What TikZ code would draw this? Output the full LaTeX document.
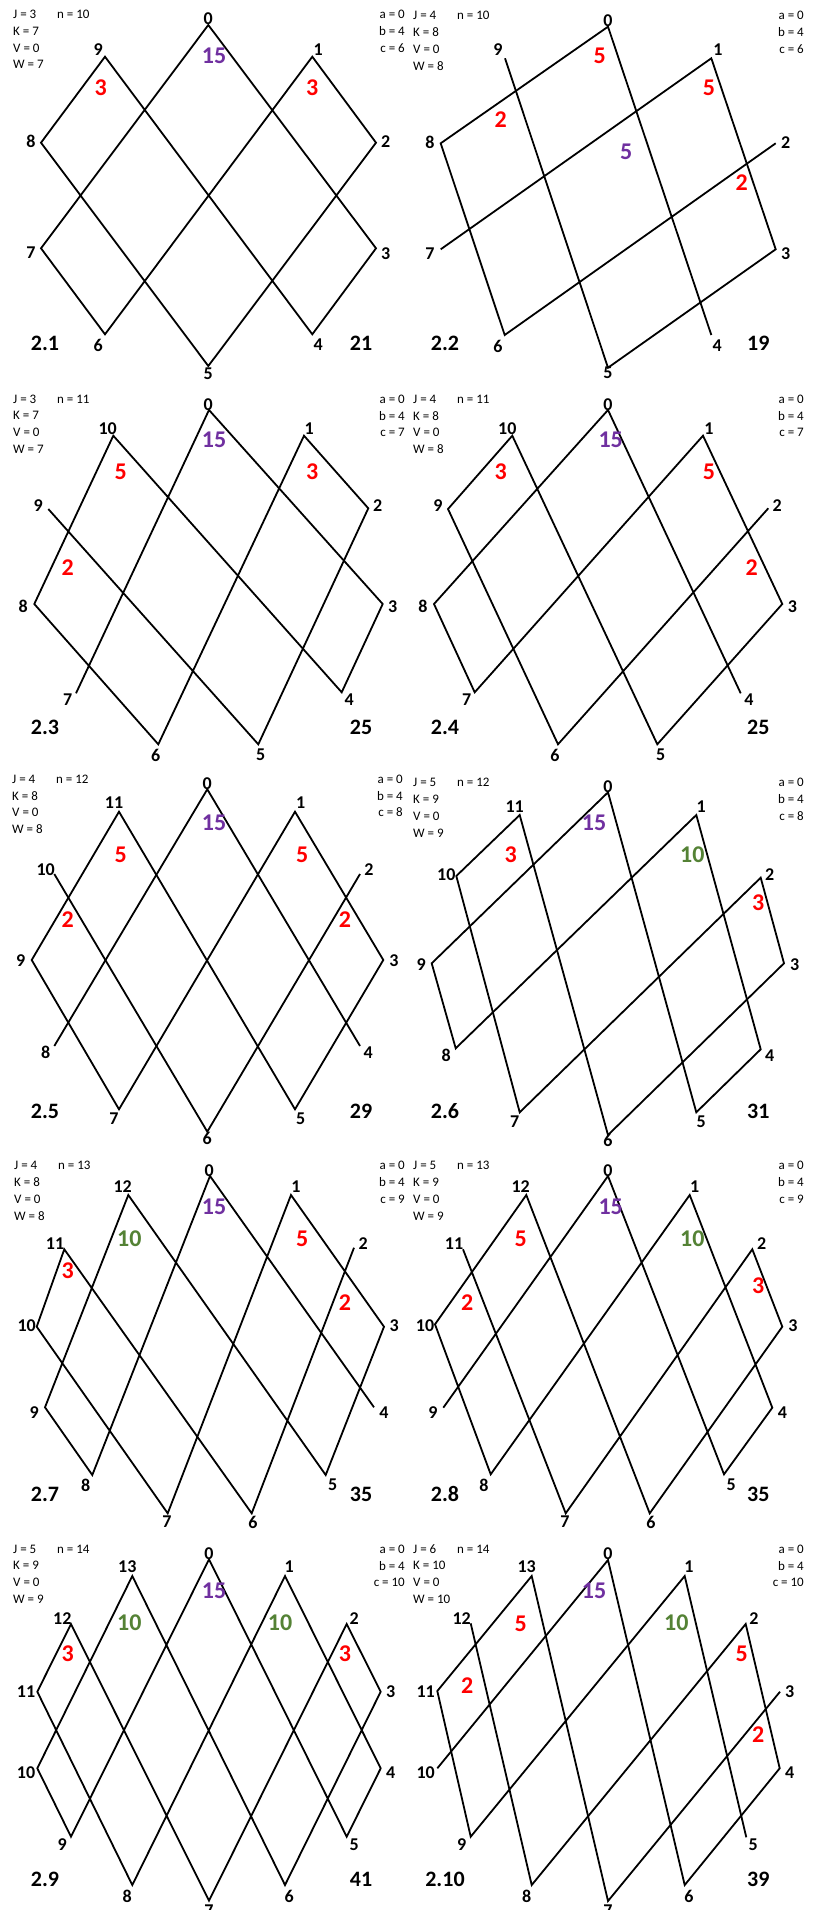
\documentclass[tikz,border=0pt]{standalone}
\usepackage{fontspec}
\setmainfont{Carlito}
\definecolor{pur}{RGB}{112,48,160}
\definecolor{grn}{RGB}{84,130,53}
\newcommand{\infoblk}[9]{%
 \node[info] (#1J) at (#2,#3) {J = #4};
 \node[info] (#1n) at (#2+44,#3) {n = #7};
 \node[info] (#1K) at (#2,#3+16.7) {K = #5};
 \node[info] (#1V) at (#2,#3+33.4) {V = 0};
 \node[info] (#1W) at (#2,#3+50.1) {W = #6};
 \node[infor] (#1a) at (#9,#3) {a = 0};
 \node[infor] (#1b) at (#9,#3+16.7) {b = 4};
 \node[infor] (#1c) at (#9,#3+33.4) {c = #8};
}
\begin{document}
\begin{tikzpicture}[x=1pt,y=-1pt,
 vl/.style={font=\bfseries\fontsize{18}{18}\selectfont,inner sep=0pt},
 rn/.style={font=\bfseries\fontsize{24}{24}\selectfont,text=red,inner sep=0pt},
 pn/.style={rn,text=pur},
 gn/.style={rn,text=grn},
 pid/.style={font=\bfseries\fontsize{22}{22}\selectfont,inner sep=0pt},
 info/.style={font=\fontsize{13}{13}\selectfont,inner sep=0pt,anchor=west},
 infor/.style={info,anchor=east},
 edge/.style={line width=1.8pt,line join=miter}]
\useasboundingbox[fill=white] (0,0) rectangle (818,1910);

% ---------- 2.1 ----------
\coordinate (a0) at (208.3,25); \coordinate (a1) at (312.3,56.7);
\coordinate (a2) at (376,142.7); \coordinate (a3) at (376,248.3);
\coordinate (a4) at (312.3,334.3); \coordinate (a5) at (208.3,366);
\coordinate (a6) at (105,334.3); \coordinate (a7) at (41,248.3);
\coordinate (a8) at (41,142.7); \coordinate (a9) at (105,56.7);
\draw[edge] (a0)--(a7)--(a6)--(a1)--(a2)--(a5)--(a8)--(a9)--(a4)--(a3)--cycle;
\node[vl] (aL0) at (208.3,18.3) {0}; \node[vl] (aL1) at (318.3,49.3) {1};
\node[vl] (aL2) at (385.7,141.7) {2}; \node[vl] (aL3) at (385.7,253.3) {3};
\node[vl] (aL4) at (318.3,345) {4}; \node[vl] (aL5) at (208.3,374) {5};
\node[vl] (aL6) at (98.3,345) {6}; \node[vl] (aL7) at (31,252.3) {7};
\node[vl] (aL8) at (31,141.7) {8}; \node[vl] (aL9) at (98.3,49.3) {9};
\node[rn] (aR1) at (100.7,87.7) {3}; \node[rn] (aR2) at (312.3,87.7) {3};
\node[pn] (aP) at (214,56) {15};
\node[pid] (aID) at (45,343.3) {2.1}; \node[pid] (aN) at (361,343.3) {21};
\infoblk{a}{13}{14.7}{3}{7}{7}{10}{6}{405}

% ---------- 2.2 ----------
\coordinate (b0) at (608,26.7); \coordinate (b1) at (711.3,58.3);
\coordinate (b2) at (775.7,143.3); \coordinate (b3) at (775.7,249.3);
\coordinate (b4) at (711.3,335); \coordinate (b5) at (608,367.7);
\coordinate (b6) at (504.7,335); \coordinate (b7) at (440.7,249.3);
\coordinate (b8) at (440.7,143.3); \coordinate (b9) at (505,58.3);
\draw[edge] (b4)--(b0)--(b8)--(b6)--(b2);
\draw[edge] (b9)--(b5)--(b3)--(b1)--(b7);
\node[vl] (bL0) at (608,20.7) {0}; \node[vl] (bL1) at (718,50) {1};
\node[vl] (bL2) at (785.7,142.7) {2}; \node[vl] (bL3) at (785.7,254) {3};
\node[vl] (bL4) at (717.3,346) {4}; \node[vl] (bL5) at (608,373) {5};
\node[vl] (bL6) at (498,346) {6}; \node[vl] (bL7) at (430,253.3) {7};
\node[vl] (bL8) at (430,142.7) {8}; \node[vl] (bL9) at (498,50) {9};
\node[rn] (bR1) at (599.7,56) {5}; \node[rn] (bR2) at (709,88.3) {5};
\node[rn] (bR3) at (500.7,119.3) {2}; \node[rn] (bR4) at (741.7,182.7) {2};
\node[pn] (bP) at (626.3,151.7) {5};
\node[pid] (bID) at (445,343.3) {2.2}; \node[pid] (bN) at (758.3,343.3) {19};
\infoblk{b}{413}{15.7}{4}{8}{8}{10}{6}{804}

% ---------- 2.3 ----------
\coordinate (c0) at (209,410); \coordinate (c1) at (304,435.7);
\coordinate (c2) at (368.3,508.3); \coordinate (c3) at (382.7,604);
\coordinate (c4) at (341.7,692.3); \coordinate (c5) at (258.3,744.3);
\coordinate (c6) at (158.3,744.3); \coordinate (c7) at (76,693.3);
\coordinate (c8) at (34.3,604); \coordinate (c9) at (48.3,509);
\coordinate (c10) at (113.3,435.7);
\draw[edge] (c7)--(c0)--(c3)--(c4)--(c10)--(c8)--(c6)--(c1)--(c2)--(c5)--(c9);
\node[vl] (cL0) at (208.3,404.3) {0}; \node[vl] (cL1) at (309.3,428.3) {1};
\node[vl] (cL2) at (377.7,506) {2}; \node[vl] (cL3) at (392.7,606.7) {3};
\node[vl] (cL4) at (349.3,700) {4}; \node[vl] (cL5) at (260.7,755) {5};
\node[vl] (cL6) at (155.7,755) {6}; \node[vl] (cL7) at (67.7,700) {7};
\node[vl] (cL8) at (23.3,606.7) {8}; \node[vl] (cL9) at (38.3,506) {9};
\node[vl] (cL10) at (107.7,428.3) {10};
\node[rn] (cR1) at (120.7,471.7) {5}; \node[rn] (cR2) at (312.3,471.7) {3};
\node[rn] (cR3) at (67.7,567.7) {2};
\node[pn] (cP) at (214,440) {15};
\node[pid] (cID) at (45,727.7) {2.3}; \node[pid] (cN) at (361,727.7) {25};
\infoblk{c}{13}{399}{3}{7}{7}{11}{7}{405}

% ---------- 2.4 ----------
\coordinate (d0) at (608,410); \coordinate (d1) at (703,435.7);
\coordinate (d2) at (768.3,508.3); \coordinate (d3) at (782.3,604);
\coordinate (d4) at (740.7,693.3); \coordinate (d5) at (657.3,744.3);
\coordinate (d6) at (558,744.3); \coordinate (d7) at (474.7,692.3);
\coordinate (d8) at (434,604); \coordinate (d9) at (448,509);
\coordinate (d10) at (512.3,435.7);
\draw[edge] (d4)--(d0)--(d8)--(d7)--(d1)--(d3)--(d5)--(d10)--(d9)--(d6)--(d2);
\node[vl] (dL0) at (608,404.3) {0}; \node[vl] (dL1) at (709,428.3) {1};
\node[vl] (dL2) at (777.3,506) {2}; \node[vl] (dL3) at (792.3,606.7) {3};
\node[vl] (dL4) at (749,700) {4}; \node[vl] (dL5) at (660.7,755) {5};
\node[vl] (dL6) at (555,755) {6}; \node[vl] (dL7) at (466.7,700) {7};
\node[vl] (dL8) at (423,606.7) {8}; \node[vl] (dL9) at (438,506) {9};
\node[vl] (dL10) at (507.3,428.3) {10};
\node[rn] (dR1) at (500.7,471.7) {3}; \node[rn] (dR2) at (709,471.7) {5};
\node[rn] (dR3) at (751.7,567.7) {2};
\node[pn] (dP) at (610.7,440) {15};
\node[pid] (dID) at (445,727.7) {2.4}; \node[pid] (dN) at (758.3,727.7) {25};
\infoblk{d}{413}{399}{4}{8}{8}{11}{7}{804}

% ---------- 2.5 ----------
\coordinate (e0) at (207.3,789.3); \coordinate (e1) at (295,811.7);
\coordinate (e2) at (360,874); \coordinate (e3) at (383.3,960);
\coordinate (e4) at (360,1046); \coordinate (e5) at (295,1109.3);
\coordinate (e6) at (207.3,1131.7); \coordinate (e7) at (119,1109.3);
\coordinate (e8) at (54.3,1046); \coordinate (e9) at (31.7,960);
\coordinate (e10) at (54.3,874); \coordinate (e11) at (119,811.7);
\draw[edge] (e8)--(e0)--(e4);
\draw[edge] (e10)--(e6)--(e2);
\draw[edge] (e11)--(e9)--(e7)--(e1)--(e3)--(e5)--cycle;
\node[vl] (eL0) at (207.3,784) {0}; \node[vl] (eL1) at (300.7,802.7) {1};
\node[vl] (eL2) at (369,870) {2}; \node[vl] (eL3) at (394,960.7) {3};
\node[vl] (eL4) at (368.3,1052.7) {4}; \node[vl] (eL5) at (300.7,1118.3) {5};
\node[vl] (eL6) at (207.3,1138.3) {6}; \node[vl] (eL7) at (114,1118.3) {7};
\node[vl] (eL8) at (45.7,1052.7) {8}; \node[vl] (eL9) at (20.7,960.7) {9};
\node[vl] (eL10) at (45.7,870) {10}; \node[vl] (eL11) at (114,802.7) {11};
\node[rn] (eR1) at (120.7,855) {5}; \node[rn] (eR2) at (302.3,855) {5};
\node[rn] (eR3) at (67.7,919.3) {2}; \node[rn] (eR4) at (345,919.3) {2};
\node[pn] (eP) at (214,822.7) {15};
\node[pid] (eID) at (45,1111) {2.5}; \node[pid] (eN) at (361,1111) {29};
\infoblk{e}{12}{779}{4}{8}{8}{12}{8}{403}

% ---------- 2.6 ----------
\coordinate (f0) at (608,792.3); \coordinate (f1) at (696.3,815);
\coordinate (f2) at (760.7,877.7); \coordinate (f3) at (784,963.3);
\coordinate (f4) at (760.7,1049.3); \coordinate (f5) at (696.3,1112.3);
\coordinate (f6) at (608,1135); \coordinate (f7) at (519.7,1112.3);
\coordinate (f8) at (455.7,1048.3); \coordinate (f9) at (431.7,963.3);
\coordinate (f10) at (456.3,876); \coordinate (f11) at (519.7,815);
\draw[edge] (f0)--(f9)--(f8)--(f1)--(f4)--(f5)--cycle;
\draw[edge] (f11)--(f10)--(f7)--(f2)--(f3)--(f6)--cycle;
\node[vl] (fL0) at (608,786.7) {0}; \node[vl] (fL1) at (701.3,806.7) {1};
\node[vl] (fL2) at (769.7,874.3) {2}; \node[vl] (fL3) at (794.7,965) {3};
\node[vl] (fL4) at (769.7,1055.7) {4}; \node[vl] (fL5) at (701.3,1121.7) {5};
\node[vl] (fL6) at (608,1140) {6}; \node[vl] (fL7) at (514.7,1121.7) {7};
\node[vl] (fL8) at (446.3,1055.7) {8}; \node[vl] (fL9) at (421.3,965) {9};
\node[vl] (fL10) at (446.3,874.3) {10}; \node[vl] (fL11) at (514.7,806.7) {11};
\node[rn] (fR1) at (510.7,855) {3}; \node[gn] (fG1) at (692.3,855) {10};
\node[rn] (fR2) at (758.3,902.7) {3};
\node[pn] (fP) at (594,822.7) {15};
\node[pid] (fID) at (445,1111) {2.6}; \node[pid] (fN) at (758.3,1111) {31};
\infoblk{f}{413}{782.7}{5}{9}{9}{12}{8}{804}

% ---------- 2.7 ----------
\coordinate (g0) at (210,1176); \coordinate (g1) at (291,1195);
\coordinate (g2) at (354,1247.7); \coordinate (g3) at (384,1326.7);
\coordinate (g4) at (374,1407.3); \coordinate (g5) at (325.7,1475);
\coordinate (g6) at (251.7,1513.3); \coordinate (g7) at (167.7,1513.3);
\coordinate (g8) at (92.3,1475); \coordinate (g9) at (45,1407.3);
\coordinate (g10) at (36.7,1326.7); \coordinate (g11) at (64.3,1249.3);
\coordinate (g12) at (128.3,1195);
\draw[edge] (g4)--(g0)--(g8)--(g9)--(g12)--(g5)--(g3)--(g1)--(g7)--(g10)--(g11)--(g6)--(g2);
\node[vl] (gL0) at (209.3,1170.7) {0}; \node[vl] (gL1) at (296,1186.7) {1};
\node[vl] (gL2) at (363.3,1244) {2}; \node[vl] (gL3) at (394.3,1326) {3};
\node[vl] (gL4) at (384,1412.7) {4}; \node[vl] (gL5) at (332.7,1485) {5};
\node[vl] (gL6) at (253,1522) {6}; \node[vl] (gL7) at (167,1522) {7};
\node[vl] (gL8) at (85.7,1485) {8}; \node[vl] (gL9) at (34.3,1412.7) {9};
\node[vl] (gL10) at (26.7,1326) {10}; \node[vl] (gL11) at (55,1244) {11};
\node[vl] (gL12) at (122.7,1186.7) {12};
\node[rn] (gR1) at (67.7,1270.7) {3}; \node[gn] (gG1) at (129.3,1239) {10};
\node[rn] (gR2) at (302.3,1239) {5}; \node[rn] (gR3) at (345,1302.3) {2};
\node[pn] (gP) at (214,1206.7) {15};
\node[pid] (gID) at (45,1494.3) {2.7}; \node[pid] (gN) at (361,1494.3) {35};
\infoblk{g}{14}{1165.7}{4}{8}{8}{13}{9}{405}

% ---------- 2.8 ----------
\coordinate (h0) at (608,1176); \coordinate (h1) at (689.7,1195);
\coordinate (h2) at (752.3,1249.3); \coordinate (h3) at (782.3,1326.7);
\coordinate (h4) at (772.3,1407.7); \coordinate (h5) at (724,1474.3);
\coordinate (h6) at (649.7,1513.3); \coordinate (h7) at (565.7,1513.3);
\coordinate (h8) at (490.7,1474.3); \coordinate (h9) at (443.3,1407.7);
\coordinate (h10) at (435,1324.3); \coordinate (h11) at (463,1249.3);
\coordinate (h12) at (526.3,1195);
\draw[edge] (h9)--(h0)--(h5)--(h4)--(h1)--(h8)--(h10)--(h12)--(h6)--(h3)--(h2)--(h7)--(h11);
\node[vl] (hL0) at (608,1170.7) {0}; \node[vl] (hL1) at (694.7,1186.7) {1};
\node[vl] (hL2) at (761.7,1244) {2}; \node[vl] (hL3) at (793,1326) {3};
\node[vl] (hL4) at (782.3,1412.7) {4}; \node[vl] (hL5) at (731.3,1485) {5};
\node[vl] (hL6) at (651,1522) {6}; \node[vl] (hL7) at (565,1522) {7};
\node[vl] (hL8) at (484,1485) {8}; \node[vl] (hL9) at (433,1412.7) {9};
\node[vl] (hL10) at (425,1326) {10}; \node[vl] (hL11) at (454,1244) {11};
\node[vl] (hL12) at (520.7,1186.7) {12};
\node[rn] (hR1) at (520.7,1239) {5}; \node[gn] (hG1) at (692.3,1239) {10};
\node[rn] (hR2) at (467.3,1302.3) {2}; \node[rn] (hR3) at (758.3,1285.7) {3};
\node[pn] (hP) at (610.7,1206.7) {15};
\node[pid] (hID) at (445,1494.3) {2.8}; \node[pid] (hN) at (758.3,1494.3) {35};
\infoblk{h}{413}{1165.7}{5}{9}{9}{13}{9}{804}

% ---------- 2.9 ----------
\coordinate (i0) at (209,1559.3); \coordinate (i1) at (285,1576);
\coordinate (i2) at (346.7,1624); \coordinate (i3) at (380.7,1691.7);
\coordinate (i4) at (380.7,1768.3); \coordinate (i5) at (346.7,1836.7);
\coordinate (i6) at (285,1885); \coordinate (i7) at (209,1900.7);
\coordinate (i8) at (132.3,1885); \coordinate (i9) at (71,1836.7);
\coordinate (i10) at (37.3,1768.3); \coordinate (i11) at (37.3,1691.7);
\coordinate (i12) at (71,1624); \coordinate (i13) at (132.3,1576);
\draw[edge] (i0)--(i9)--(i10)--(i13)--(i6)--(i3)--(i2)--(i7)--(i12)--(i11)--(i8)--(i1)--(i4)--(i5)--cycle;
\node[vl] (iL0) at (209,1553.3) {0}; \node[vl] (iL1) at (289.3,1566.7) {1};
\node[vl] (iL2) at (354.3,1618.3) {2}; \node[vl] (iL3) at (390.7,1691.7) {3};
\node[vl] (iL4) at (390.7,1772.3) {4}; \node[vl] (iL5) at (354.3,1845) {5};
\node[vl] (iL6) at (289.3,1896) {6}; \node[vl] (iL7) at (209,1911) {7};
\node[vl] (iL8) at (127.3,1896) {8}; \node[vl] (iL9) at (62.3,1845) {9};
\node[vl] (iL10) at (26,1772.3) {10}; \node[vl] (iL11) at (26,1691.7) {11};
\node[vl] (iL12) at (62.3,1618.3) {12}; \node[vl] (iL13) at (127.3,1566.7) {13};
\node[rn] (iR1) at (67.7,1654) {3}; \node[gn] (iG1) at (129.3,1622.7) {10};
\node[gn] (iG2) at (280,1622.7) {10}; \node[rn] (iR2) at (345,1654) {3};
\node[pn] (iP) at (214,1590.7) {15};
\node[pid] (iID) at (45,1879) {2.9}; \node[pid] (iN) at (361,1879) {41};
\infoblk{i}{13}{1549}{5}{9}{9}{14}{10}{405}

% ---------- 2.10 ----------
\coordinate (j0) at (608,1560); \coordinate (j1) at (684.7,1576);
\coordinate (j2) at (745.7,1624); \coordinate (j3) at (780,1691.7);
\coordinate (j4) at (779.7,1768.3); \coordinate (j5) at (746.3,1837.3);
\coordinate (j6) at (684.7,1885); \coordinate (j7) at (608,1901);
\coordinate (j8) at (531.7,1885); \coordinate (j9) at (470.7,1836.7);
\coordinate (j10) at (437.3,1768.3); \coordinate (j11) at (437.3,1691);
\coordinate (j12) at (470.7,1623.3); \coordinate (j13) at (531.7,1576);
\draw[edge] (j10)--(j0)--(j6)--(j4)--(j2)--(j8)--(j12);
\draw[edge] (j5)--(j1)--(j9)--(j11)--(j13)--(j7)--(j3);
\node[vl] (jL0) at (608,1553.3) {0}; \node[vl] (jL1) at (689,1566.7) {1};
\node[vl] (jL2) at (754,1618.3) {2}; \node[vl] (jL3) at (789.7,1691.7) {3};
\node[vl] (jL4) at (789.7,1772.3) {4}; \node[vl] (jL5) at (753.3,1845) {5};
\node[vl] (jL6) at (689,1896) {6}; \node[vl] (jL7) at (608,1911) {7};
\node[vl] (jL8) at (526.7,1896) {8}; \node[vl] (jL9) at (461.7,1845) {9};
\node[vl] (jL10) at (425.7,1772.3) {10}; \node[vl] (jL11) at (425.7,1691.7) {11};
\node[vl] (jL12) at (461.7,1618.3) {12}; \node[vl] (jL13) at (526.7,1566.7) {13};
\node[rn] (jR1) at (520.7,1623.3) {5}; \node[rn] (jR2) at (467.3,1685.7) {2};
\node[gn] (jG1) at (676.3,1622.7) {10}; \node[rn] (jR3) at (741.7,1653.3) {5};
\node[rn] (jR4) at (758.3,1735) {2};
\node[pn] (jP) at (594,1590.7) {15};
\node[pid] (jID) at (445,1879) {2.10}; \node[pid] (jN) at (758.3,1879) {39};
\infoblk{j}{413}{1549}{6}{10}{10}{14}{10}{804}
\end{tikzpicture}
\end{document}
